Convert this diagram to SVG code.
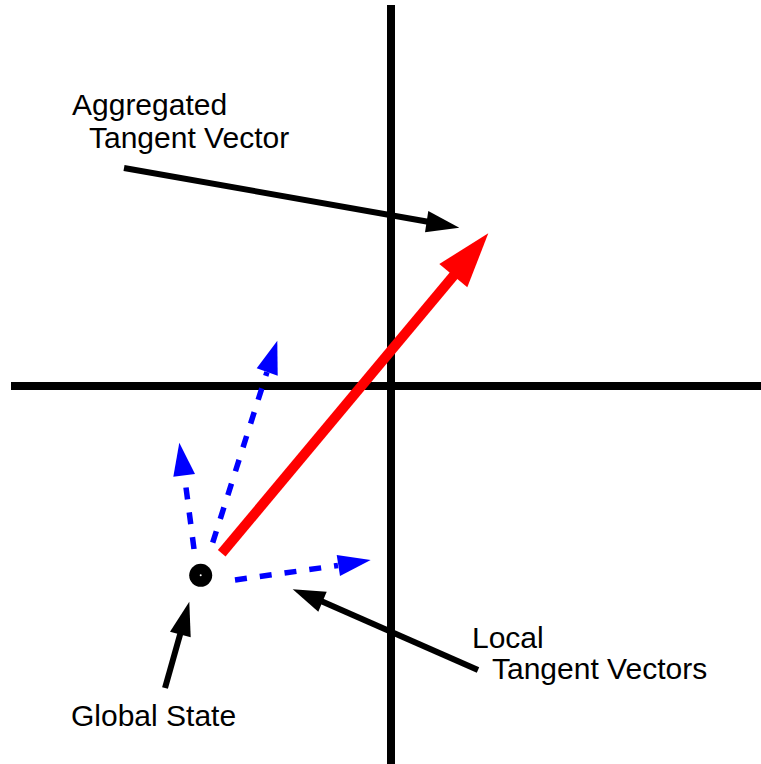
<svg xmlns="http://www.w3.org/2000/svg" width="761" height="764" viewBox="0 0 761 764">
<style>
.axis{stroke:#000;stroke-width:8;fill:none}
.blk{stroke:#000;stroke-width:6;fill:none}
.blkh{fill:#000}
.blue{stroke:#0000ff;stroke-width:5.5;fill:none;stroke-dasharray:12 13}
.blueh{fill:#0000ff}
.red{stroke:#ff0000;stroke-width:10;fill:none}
.redh{fill:#ff0000}
text{font-family:"Liberation Sans",Arial,sans-serif;font-size:30px;fill:#000}
</style>
<rect width="761" height="764" fill="#fff"/>
<g id="axes">
<line class="axis" x1="391" y1="5" x2="391" y2="764"/>
<line class="axis" x1="11" y1="386" x2="761" y2="386"/>
</g>
<g id="connectors">
<g id="aggregated-vector">
<line class="red" x1="221.7" y1="553.3" x2="455" y2="274"/>
<polygon class="redh" points="488.3,233.3 439.3,264 467.3,287.3"/>
</g>
<g id="local-vectors">
<line class="blue" x1="194" y1="549" x2="184.5" y2="476"/>
<polygon class="blueh" points="179.3,442.7 173.3,476.7 195,474"/>
<line class="blue" x1="212.7" y1="542.7" x2="267" y2="372"/>
<polygon class="blueh" points="277.3,340.7 256.7,368.3 277.7,375.7"/>
<line class="blue" x1="235" y1="580" x2="338" y2="565.5"/>
<polygon class="blueh" points="370.7,560 336.7,555 340,576"/>
</g>
<g id="label-arrows">
<line class="blk" x1="124" y1="168" x2="428" y2="221.7"/>
<polygon class="blkh" points="459.3,227.7 428.3,211 425,232.3"/>
<line class="blk" x1="165" y1="688" x2="180.5" y2="633"/>
<polygon class="blkh" points="189.3,601.7 170,631.7 190.7,637.3"/>
<line class="blk" x1="478" y1="670" x2="321" y2="601"/>
<polygon class="blkh" points="292.7,589.3 326.7,591.7 318.3,611.7"/>
</g>
</g>
<g id="global-state">
<circle cx="200.7" cy="575.3" r="11.5" fill="#000"/>
<circle cx="200.7" cy="575.3" r="1" fill="#fff"/>
</g>
<g id="label-aggregated">
<text x="72" y="115">Aggregated</text>
<text x="89" y="148">Tangent Vector</text>
</g>
<g id="label-local">
<text x="472" y="648">Local</text>
<text x="492" y="679">Tangent Vectors</text>
</g>
<g id="label-global">
<text x="71" y="726">Global State</text>
</g>
</svg>
